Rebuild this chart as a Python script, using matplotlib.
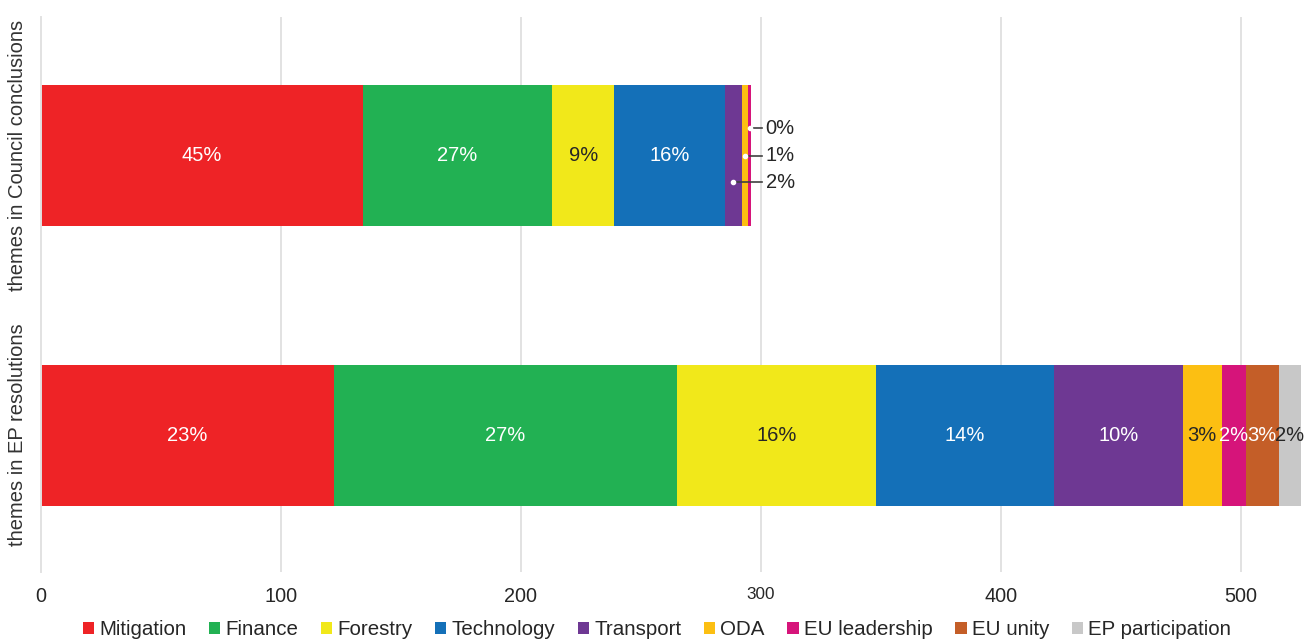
import matplotlib
matplotlib.use("Agg")
import matplotlib.pyplot as plt
import numpy as np

plt.rcParams["font.family"] = ["Liberation Sans", "DejaVu Sans"]

groups = ["themes in Council conclusions", "themes in EP resolutions"]
themes = ["Mitigation", "Finance", "Forestry", "Technology", "Transport",
          "ODA", "EU leadership", "EU unity", "EP participation"]
council = [134, 79, 26, 46, 7, 2.6, 1.4, 0, 0]
ep = [122, 143, 83, 74, 54, 16, 10, 14, 9]
colors = ["#EE2326", "#22B153", "#F1E81A", "#1470B8", "#6E3893",
          "#FCBF12", "#D6147A", "#C45E28", "#C8C8C8"]
dark_text = {"Forestry", "ODA", "EP participation"}
xticks = [0, 100, 200, 300, 400, 500]

fig = plt.figure(figsize=(13.14, 6.4), dpi=100)
ax = fig.add_axes([0.0312, 0.106, 0.9605, 0.867])

data = np.array([council, ep], dtype=float)
totals = data.sum(1)
ypos = np.arange(len(groups))
left = np.zeros(len(groups))
for j, (name, c) in enumerate(zip(themes, colors)):
    vals = data[:, j]
    ax.barh(ypos, vals, left=left, height=0.505, color=c, label=name,
            zorder=2)
    tc = "#262626" if name in dark_text else "white"
    for i in range(len(groups)):
        if vals[i] == 0:
            continue
        pct = round(vals[i] / totals[i] * 100)
        cx = left[i] + vals[i] / 2
        if i == 0 and vals[i] < 10:
            # callout labels for the thin council segments
            off = {"Transport": 0.095, "ODA": 0.0, "EU leadership": -0.098}[name]
            ax.plot([cx, 300.4], [i + off, i + off], color="#404040", lw=1.2,
                    zorder=3)
            ax.plot(cx, i + off, "o", color="white", ms=3, zorder=4)
            ax.text(302, i + off, f"{pct}%", va="center", ha="left",
                    fontsize=14.5, color="#262626")
        else:
            ax.text(cx, i, f"{pct}%", va="center", ha="center",
                    fontsize=14.5, color=tc, zorder=5)
    left += vals

ax.set_xlim(0, 526)
ax.set_ylim(1.49, -0.495)
ax.set_yticks(ypos)
ax.set_yticklabels(groups, rotation=90, va="center", fontsize=14.5,
                   color="#333333")
ax.set_xticks(xticks)
ax.set_xticklabels([str(t) for t in xticks], fontsize=14.3, color="#262626")
ax.get_xticklabels()[3].set_fontsize(12.3)
ax.tick_params(axis="both", length=0)
ax.tick_params(axis="x", pad=11)
ax.tick_params(axis="y", pad=10)
ax.grid(axis="x", color="#E2E2E2", lw=1.4, zorder=0)
for sp in ("top", "right", "bottom"):
    ax.spines[sp].set_visible(False)
ax.spines["left"].set_color("#E2E2E2")
ax.spines["left"].set_linewidth(1.4)

ax.legend(loc="upper center", bbox_to_anchor=(0.488, -0.053), ncol=9,
          frameon=False, fontsize=14.8, handlelength=0.55, handleheight=0.55,
          handletextpad=0.25, columnspacing=1.1, labelcolor="#262626")

fig.savefig("out.png", dpi=100)
